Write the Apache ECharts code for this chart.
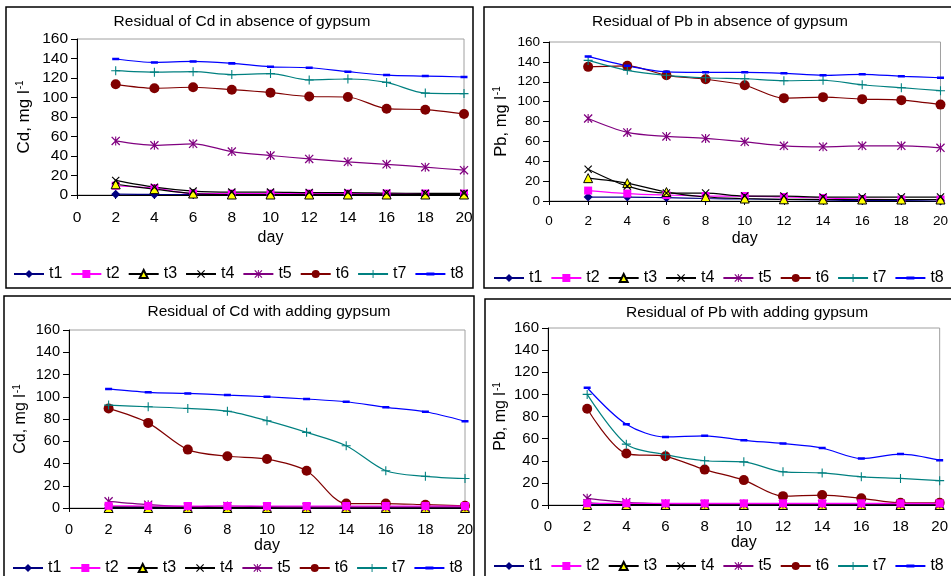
<!DOCTYPE html>
<html>
<head>
<meta charset="utf-8">
<script src="https://cdn.jsdelivr.net/npm/echarts@6/dist/echarts.min.js"></script>
<style>
  html, body { margin: 0; padding: 0; background: #fff; }
  #chart { width: 951px; height: 576px; }
</style>
</head>
<body>
<div id="chart"></div>
<script>
  // days on the x axis
  const days = [2, 4, 6, 8, 10, 12, 14, 16, 18, 20]
  const seriesNames = ['t1', 't2', 't3', 't4', 't5', 't6', 't7', 't8']
  const xTicks = [0, 2, 4, 6, 8, 10, 12, 14, 16, 18, 20]
  const yTicks = [0, 20, 40, 60, 80, 100, 120, 140, 160]

  // rows are t1..t8
  const cdAbsence = [
    [0.8, 0.6, 0.5, 0.5, 0.5, 0.5, 0.5, 0.5, 0.5, 0.5],
    [9.5, 7, 1.5, 1.5, 1.5, 1.5, 1.5, 1.5, 1.5, 1.5],
    [11, 6, 1.5, 0.5, 0.5, 0.5, 0.5, 0.5, 0.5, 0.5],
    [15, 8, 4, 3, 3, 2.5, 2.5, 2, 1.7, 1.7],
    [55.5, 51, 52.5, 44.5, 40.5, 37, 34, 31.5, 28.5, 25.5],
    [113.5, 109.5, 110.5, 108, 105, 101, 100.5, 88.5, 87.5, 83],
    [127.5, 126, 126.5, 123.5, 124.5, 118, 119, 115.5, 104.5, 104],
    [139.5, 136, 137, 135, 131.5, 130.5, 126.5, 123, 122, 121]
  ]
  const pbAbsence = [
    [4, 4, 3.3, 2.5, 2, 1.5, 1, 0.5, 0.5, 0],
    [10.5, 7.5, 6, 5, 5, 4, 3, 2, 1.5, 1.5],
    [23, 18, 9, 4, 2.5, 1.7, 1.5, 1.5, 1.5, 1.5],
    [32, 15, 8, 8, 5, 5, 4, 4, 4, 4],
    [83, 69, 65, 63, 59.5, 55.5, 54.5, 55.5, 55.5, 53.5],
    [135, 136, 126.5, 122.5, 116.5, 103.5, 104.5, 102.5, 101.5, 97],
    [141.5, 131.5, 126.5, 124, 123, 121, 121.5, 117, 114, 111],
    [145.5, 136, 130, 129.5, 129.5, 128.5, 126.5, 127.5, 125.5, 124]
  ]
  const cdGypsum = [
    [0.3, 0.3, 0.3, 0.3, 0.3, 0.3, 0.3, 0.3, 0.3, 0.3],
    [2, 1.8, 1.8, 1.8, 1.8, 1.8, 1.8, 1.8, 1.8, 1.8],
    [0, 0, 0, 0, 0, 0, 0, 0, 0, 0],
    [1, 1, 0.5, 0.5, 0.5, 0.5, 0.5, 0.5, 0.5, 0.5],
    [6, 3, 1.2, 1.8, 1.2, 1, 1, 1, 1, 1],
    [89.5, 76.5, 52.5, 46.5, 44, 33.5, 4, 4, 3, 2],
    [92.5, 91, 89.5, 87, 78.5, 68, 56, 33.5, 28.5, 26.5],
    [107, 104, 103, 101.5, 100, 98, 95.5, 90.5, 86.5, 78]
  ]
  const pbGypsum = [
    [0.3, 0.3, 0.3, 0.3, 0.3, 0.3, 0.3, 0.3, 0.3, 0.3],
    [1.5, 1.5, 1.5, 1.5, 1.5, 1.5, 1.5, 1.5, 1.5, 1.5],
    [0, 0, 0, 0, 0, 0, 0, 0, 0, 0],
    [2, 0.5, 0.5, 0.5, 0.5, 0.5, 0.5, 0.5, 0.5, 0.5],
    [6, 2.5, 1.2, 1, 1, 1, 1, 1, 1, 1],
    [87, 46.5, 44, 32, 22.5, 8, 9, 6, 2, 2],
    [100, 55, 45.5, 40, 39, 30, 29, 25.5, 24, 22],
    [106, 73, 61.5, 62.5, 58.5, 55.5, 51.5, 42, 46, 40.5]
  ]

  const titles = [
    'Residual of Cd in absence of gypsum',
    'Residual of Pb in absence of gypsum',
    'Residual of Cd with adding gypsum',
    'Residual of Pb with adding gypsum'
  ]
  const yNames = ['Cd', 'Pb', 'Cd', 'Pb']
  const panelData = [cdAbsence, pbAbsence, cdGypsum, pbGypsum]

  // marker paths for the excel-like symbols
  const xPath = 'path://M0,1L1,0L10,9L9,10Z M9,0L10,1L1,10L0,9Z'
  const plusPath = 'path://M4.4,0H5.6V10H4.4Z M0,4.4H10V5.6H0Z'
  const starPath = 'path://M4.4,0H5.6V10H4.4Z M0,1L1,0L10,9L9,10Z M9,0L10,1L1,10L0,9Z'
  // short dash, padded to a square box by two empty points
  const dashPath = 'path://M0,0L0.01,0Z M0,3.2H10V6.8H0Z M0,10L0.01,10Z'
  const looks = [
    { color: '#000080', symbol: 'diamond', size: 9 },
    { color: '#ff00ff', symbol: 'rect', size: 8 },
    { color: '#000000', symbol: 'triangle', size: 9, fill: '#ffff00' },
    { color: '#000000', symbol: xPath, size: 8 },
    { color: '#800080', symbol: starPath, size: 9 },
    { color: '#800000', symbol: 'circle', size: 10 },
    { color: '#008080', symbol: plusPath, size: 9 },
    { color: '#0000ff', symbol: dashPath, size: 7 }
  ]

  // per panel layout (pixels)
  const panels = [
    { box: [6, 7, 467, 281], grid: { left: 77, top: 39, width: 387, height: 156 }, titleX: 242, titleY: 14, tick: 15.5, xMargin: 15, nameGap: 35, yGap: 44, yName: 17, legendX: 13, legendY: 266, squaresOnTop: false },
    { box: [484, 7, 470, 281], grid: { left: 549, top: 42, width: 394, height: 159 }, titleX: 720, titleY: 14, tick: 13.5, xMargin: 13, nameGap: 30, yGap: 39, yName: 16.5, legendX: 493, legendY: 270, squaresOnTop: false },
    { box: [4, 296, 470, 285], grid: { left: 69, top: 330, width: 396, height: 178 }, titleX: 269, titleY: 304, tick: 14.5, xMargin: 14, nameGap: 28, yGap: 39, yName: 16, legendX: 12, legendY: 560, squaresOnTop: true },
    { box: [485, 299, 470, 285], grid: { left: 548, top: 328, width: 396, height: 177 }, titleX: 747, titleY: 305, tick: 15, xMargin: 14, nameGap: 29, yGap: 38, yName: 16, legendX: 493, legendY: 558, squaresOnTop: true }
  ]

  const chart = echarts.init(document.getElementById('chart'), null, { renderer: 'canvas' })
  const fontFamily = 'Liberation Sans, Arial, sans-serif'

  const grid = []
  const xAxis = []
  const yAxis = []
  const title = []
  const legend = []
  const series = []
  const graphic = []

  panels.forEach((p, k) => {
    graphic.push({
      type: 'rect',
      shape: { x: p.box[0], y: p.box[1], width: p.box[2], height: p.box[3] },
      style: { fill: 'none', stroke: '#000', lineWidth: 1.5 },
      z: 0
    })
    grid.push(Object.assign({
      show: true,
      borderColor: '#a0a0a0',
      borderWidth: 1,
      backgroundColor: 'transparent'
    }, p.grid))
    title.push({
      text: titles[k],
      left: p.titleX,
      top: p.titleY,
      textAlign: 'center',
      padding: 0,
      textStyle: { fontSize: 15.5, fontWeight: 'normal', color: '#000', fontFamily }
    })
    xAxis.push({
      type: 'value',
      gridIndex: k,
      min: xTicks[0],
      max: xTicks[xTicks.length - 1],
      interval: xTicks[1] - xTicks[0],
      name: 'day',
      nameLocation: 'middle',
      nameGap: p.nameGap,
      nameTextStyle: { fontSize: 16, color: '#000', fontFamily },
      axisLine: { onZero: false, lineStyle: { color: '#000', width: 1 } },
      axisTick: { show: true, inside: false, length: 4, lineStyle: { color: '#000' } },
      axisLabel: { fontSize: p.tick, color: '#000', margin: p.xMargin, fontFamily },
      splitLine: { show: false }
    })
    yAxis.push({
      type: 'value',
      gridIndex: k,
      min: yTicks[0],
      max: yTicks[yTicks.length - 1],
      interval: yTicks[1] - yTicks[0],
      name: '{a|' + yNames[k] + ', mg l}{s|-1}',
      nameLocation: 'middle',
      nameGap: p.yGap,
      nameTextStyle: {
        color: '#000',
        fontFamily,
        rich: {
          a: { fontSize: p.yName, color: '#000', fontFamily },
          s: { fontSize: 10, color: '#000', fontFamily, verticalAlign: 'top', padding: [0, 0, 8, 1] }
        }
      },
      axisLine: { show: true, lineStyle: { color: '#000', width: 1 } },
      axisTick: { show: true, inside: false, length: 6, lineStyle: { color: '#000' } },
      axisLabel: { fontSize: p.tick, color: '#000', margin: 9, fontFamily },
      splitLine: { show: false }
    })
    legend.push({
      data: seriesNames,
      left: p.legendX,
      top: p.legendY,
      width: 470,
      orient: 'horizontal',
      padding: 0,
      itemWidth: 30,
      itemHeight: 10,
      itemGap: 8,
      selectedMode: false,
      textStyle: { fontSize: 16, color: '#000', fontFamily }
    })
    panelData[k].forEach((vals, i) => {
      const look = looks[i]
      series.push({
        name: seriesNames[i],
        type: 'line',
        xAxisIndex: k,
        yAxisIndex: k,
        smooth: 0.3,
        symbol: look.symbol,
        symbolSize: look.size,
        z: (p.squaresOnTop && i === 1) ? 3 : 2,
        data: days.map((d, j) => [d, vals[j]]),
        lineStyle: { color: look.color, width: 1.2 },
        itemStyle: {
          color: look.fill || look.color,
          borderColor: look.color,
          borderWidth: look.fill ? 1 : 0
        },
        emphasis: { disabled: true },
        animation: false
      })
    })
  })

  chart.setOption({
    backgroundColor: '#fff',
    animation: false,
    title,
    grid,
    xAxis,
    yAxis,
    legend,
    series,
    graphic
  })
</script>
</body>
</html>
